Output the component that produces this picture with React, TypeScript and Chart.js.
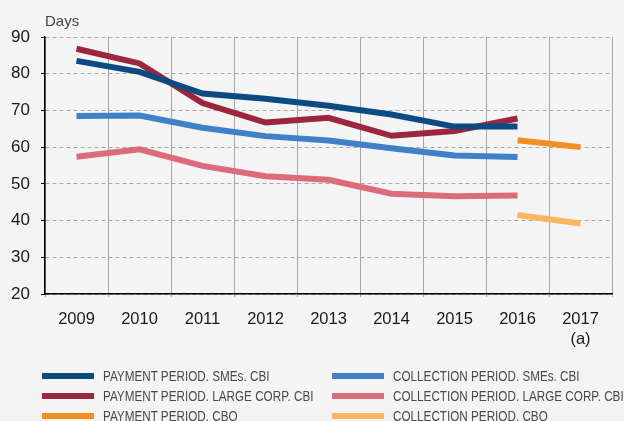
import React, { useEffect, useRef } from "react";
import { Chart, registerables } from "chart.js";

Chart.register(...registerables);

const years = ["2009", "2010", "2011", "2012", "2013", "2014", "2015", "2016", ["2017", "(a)"]];
const paymentSmesCbi = [83.5, 80.5, 74.6, 73.2, 71.3, 68.9, 65.6, 65.6, null];
const paymentLargeCbi = [86.8, 82.8, 72.0, 66.7, 68.0, 63.1, 64.4, 67.8, null];
const paymentCbq = [null, null, null, null, null, null, null, 61.9, 60.0];
const collectionSmesCbi = [68.5, 68.6, 65.3, 63.0, 61.8, 59.7, 57.7, 57.3, null];
const collectionLargeCbi = [57.4, 59.4, 54.9, 52.1, 51.1, 47.3, 46.6, 46.8, null];
const collectionCbq = [null, null, null, null, null, null, null, 41.5, 39.2];
const yTicks = [20, 30, 40, 50, 60, 70, 80, 90];

const seriesNames = [
  "PAYMENT PERIOD. SMEs. CBI",
  "PAYMENT PERIOD. LARGE CORP. CBI",
  "PAYMENT PERIOD. CBQ",
  "COLLECTION PERIOD. SMEs. CBI",
  "COLLECTION PERIOD. LARGE CORP. CBI",
  "COLLECTION PERIOD. CBQ",
];
const seriesColors = ["#0c4a82", "#9c2540", "#f28f22", "#3f80c6", "#dc6c7b", "#fbb760"];
const seriesData = [paymentSmesCbi, paymentLargeCbi, paymentCbq, collectionSmesCbi, collectionLargeCbi, collectionCbq];

export default function App() {
  const ref = useRef<HTMLCanvasElement | null>(null);

  useEffect(() => {
    document.body.style.margin = "0";
    const canvas = ref.current;
    if (!canvas) return;
    const drawOrder = [4, 3, 5, 2, 0, 1];
    const chart = new Chart(canvas, {
      type: "line",
      data: {
        labels: years as any,
        datasets: drawOrder.map((i) => ({
          label: seriesNames[i],
          data: seriesData[i] as any,
          borderColor: seriesColors[i],
          backgroundColor: seriesColors[i],
          borderWidth: 6,
          pointRadius: 0,
          pointHoverRadius: 0,
          tension: 0,
          spanGaps: false,
          borderCapStyle: "butt",
          borderJoinStyle: "miter",
          fill: false,
        })),
      },
      options: {
        responsive: false,
        animation: false,
        events: [],
        layout: { padding: { left: 0, right: 12, top: 37, bottom: 67 } },
        plugins: { legend: { display: false }, tooltip: { enabled: false }, title: { display: false } },
        scales: {
          x: {
            type: "category",
            offset: true,
            grid: {
              offset: true,
              color: "#a6a6a6",
              lineWidth: 1,
              drawTicks: true,
              tickLength: 3,
              tickColor: "#a6a6a6",
            },
            border: { display: true, color: "#000000", width: 1.5 },
            ticks: {
              autoSkip: false,
              maxRotation: 0,
              minRotation: 0,
              padding: 12,
              color: "#1a1a1a",
              font: { family: "'Liberation Sans', Arial, sans-serif", size: 16.5, lineHeight: 1.22 },
            },
            afterFit: (scale: any) => {
              scale.height = 60;
            },
          },
          y: {
            min: 20,
            max: 90,
            afterBuildTicks: (scale: any) => {
              scale.ticks = yTicks.map((v) => ({ value: v }));
            },
            grid: {
              color: "#a9a9a9",
              lineWidth: 1,
              drawTicks: true,
              tickLength: 4,
              tickColor: "#000000",
              tickBorderDash: [],
              borderDash: [4, 3],
            } as any,
            border: { display: true, color: "#000000", width: 1.5, dash: [4, 3] },
            ticks: {
              padding: 11,
              color: "#1a1a1a",
              font: { family: "'Liberation Sans', Arial, sans-serif", size: 17 },
            },
            afterFit: (scale: any) => {
              scale.width = 45;
            },
          },
        },
      },
    });
    return () => chart.destroy();
  }, []);

  const rowTops = [376, 396.3, 416];
  return (
    <div style={{ position: "relative", width: 624, height: 421, background: "#f4f4f4", overflow: "hidden" }}>
      <canvas ref={ref} width={624} height={421} style={{ position: "absolute", left: 0, top: 0 }} />
      <div
        style={{
          position: "absolute",
          left: 45,
          top: 12,
          fontFamily: "'Liberation Sans', Arial, sans-serif",
          fontSize: 15,
          lineHeight: "17px",
          color: "#444",
        }}
      >
        Days
      </div>
      {seriesNames.map((name, i) => {
        const col = i < 3 ? 0 : 1;
        const row = i % 3;
        const swLeft = col === 0 ? 42 : 332;
        return (
          <div
            key={name}
            style={{
              position: "absolute",
              left: swLeft,
              top: rowTops[row] - 10,
              height: 20,
              display: "flex",
              alignItems: "center",
              whiteSpace: "nowrap",
            }}
          >
            <span style={{ display: "inline-block", width: 52, height: 6, background: seriesColors[i], marginRight: 8.5 }} />
            <span
              style={{
                display: "inline-block",
                fontFamily: "'Liberation Sans', Arial, sans-serif",
                fontSize: 15.5,
                lineHeight: "20px",
                color: "#4a4a4a",
                transform: "scaleX(0.755)",
                transformOrigin: "left center",
              }}
            >
              {name}
            </span>
          </div>
        );
      })}
    </div>
  );
}
